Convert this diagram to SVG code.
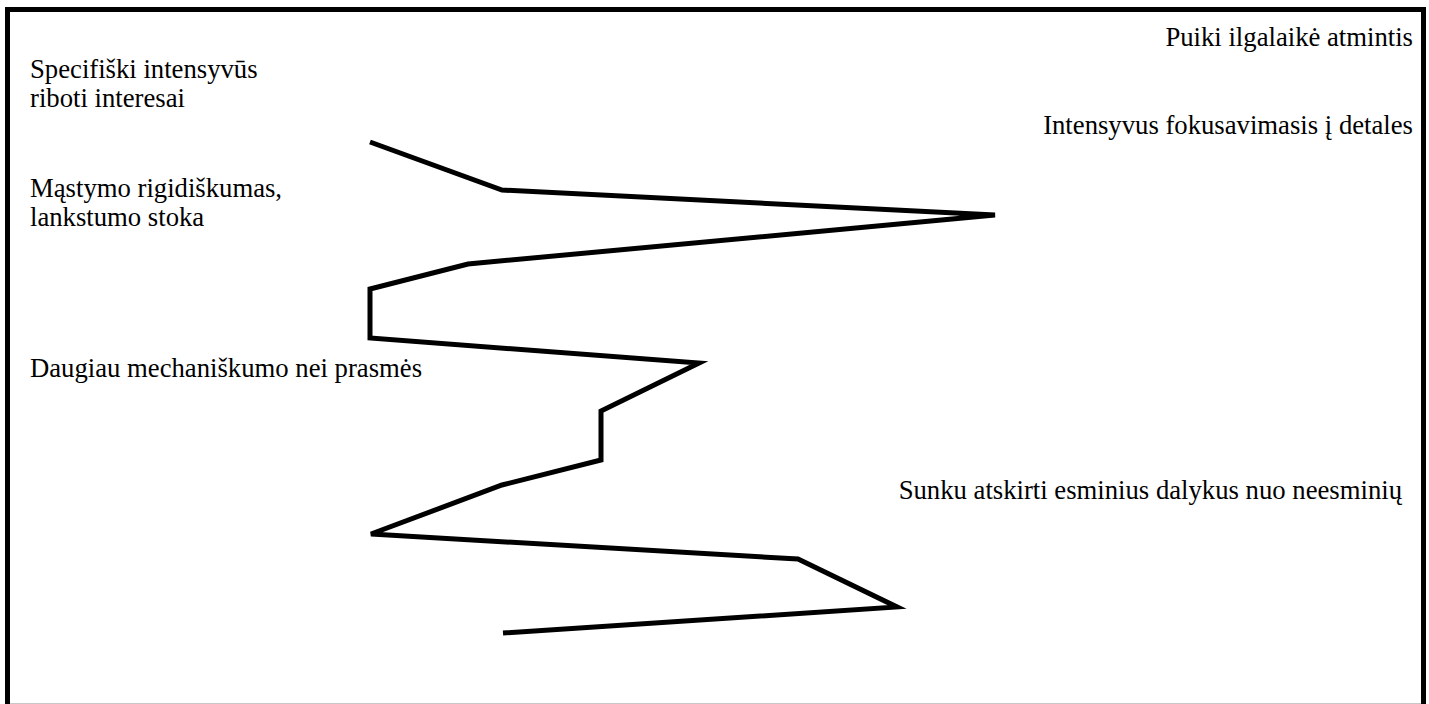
<svg xmlns="http://www.w3.org/2000/svg" width="1429" height="704" viewBox="0 0 1429 704">
<style>
.lbl{font-family:"Liberation Serif","Times New Roman",serif;font-size:26.7px;fill:#000}
.end{text-anchor:end}
.zig{fill:none;stroke:#000;stroke-width:5;stroke-linejoin:miter;stroke-linecap:butt}
</style>
<rect x="0" y="0" width="1429" height="704" fill="#fff"/>
<rect id="frame" x="7.5" y="9.5" width="1416" height="700" fill="none" stroke="#000" stroke-width="5"/>
<line x1="10" y1="703.5" x2="1421" y2="703.5" stroke="#c8c8c8" stroke-width="1"/>
<g id="connectors">
<polyline class="zig" points="370,142 502,190 995,215 468,264 370,289 370,338 699,363 601,411 601,460 502,485 371,534 798,559 897,607 503,633"/>
</g>
<g id="n1"><text class="lbl end" x="1413" y="46">Puiki ilgalaikė atmintis</text></g>
<g id="n2"><text class="lbl" x="30" y="78">Specifiški intensyvūs</text><text class="lbl" x="30" y="107">riboti interesai</text></g>
<g id="n3"><text class="lbl end" x="1413" y="134">Intensyvus fokusavimasis į detales</text></g>
<g id="n4"><text class="lbl" x="30" y="197">Mąstymo rigidiškumas,</text><text class="lbl" x="30" y="226">lankstumo stoka</text></g>
<g id="n5"><text class="lbl" x="30" y="377">Daugiau mechaniškumo nei prasmės</text></g>
<g id="n6"><text class="lbl end" x="1402" y="499">Sunku atskirti esminius dalykus nuo neesminių</text></g>
</svg>
